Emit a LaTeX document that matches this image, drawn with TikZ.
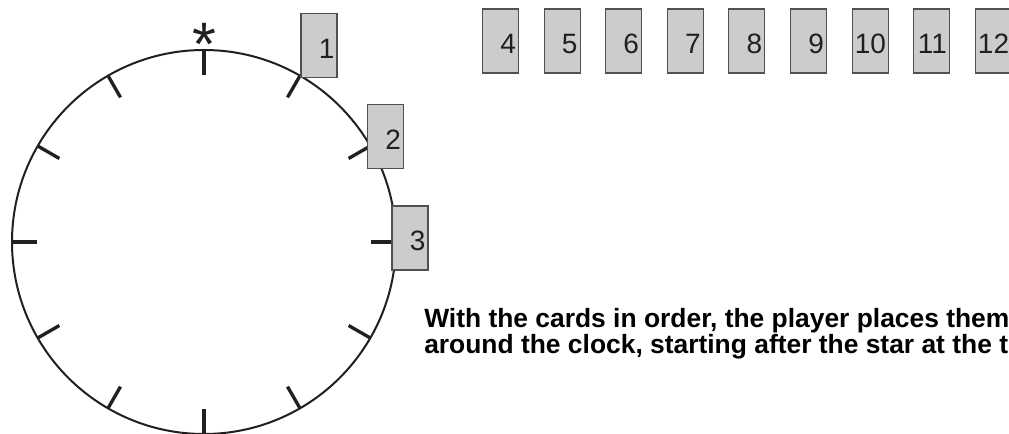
\documentclass[tikz,border=0pt]{standalone}
\usepackage{fontspec}
\setmainfont{Liberation Sans}
\usetikzlibrary{positioning}

\definecolor{cardgray}{HTML}{CCCCCC}
\definecolor{cardedge}{HTML}{505050}
\definecolor{ink}{HTML}{231F20}

\begin{document}
\begin{tikzpicture}[
  x=0.75pt, y=-0.75pt,
  card/.style={draw=cardedge, fill=cardgray, line width=0.8pt, rectangle,
    minimum width=27pt, minimum height=48pt, inner sep=0pt,
    text width=23pt, align=right, text height=19.5pt, text depth=0pt,
    text=ink, font=\fontsize{21}{21}\selectfont},
  rim/.style={draw=ink, line width=1.5pt},
  clocktick/.style={draw=ink, line width=2.5pt},
  note/.style={anchor=base west, inner sep=0pt, text=black,
    font=\fontsize{19.8}{19.5}\selectfont\bfseries}
]
  \useasboundingbox (0,0) rectangle (1009,434);
  \clip (0,0) rectangle (1009,434);

  % the clock face
  \coordinate (hub) at (204,242);
  \draw[rim] (hub) circle[radius=144pt];
  \begin{scope}[shift={(hub)}]
    \foreach \a in {0,30,...,330}
      \draw[clocktick] (\a:192) -- (\a:167);
  \end{scope}
  \node[anchor=north, inner sep=0pt, text=ink, font=\fontsize{46}{46}\selectfont] (star) at (204,23) {*};

  % cards already placed
  \node[card] (card1) at (319,45.5) {1};
  \node[card] (card2) at (385.5,136.5) {2};
  \node[card] (card3) at (410,238) {3};

  % cards still waiting
  \node[card] (card4) at (500.5,41) {4};
  \foreach \n [remember=\n as \prev (initially 4)] in {5,...,12}
    \node[card, right=18.4pt of card\prev] (card\n) {\n};

  \node[note] (line1) at (424,327) {With the cards in order, the player places them};
  \node[note] (line2) at (424,353) {around the clock, starting after the star at the top.};
\end{tikzpicture}
\end{document}
